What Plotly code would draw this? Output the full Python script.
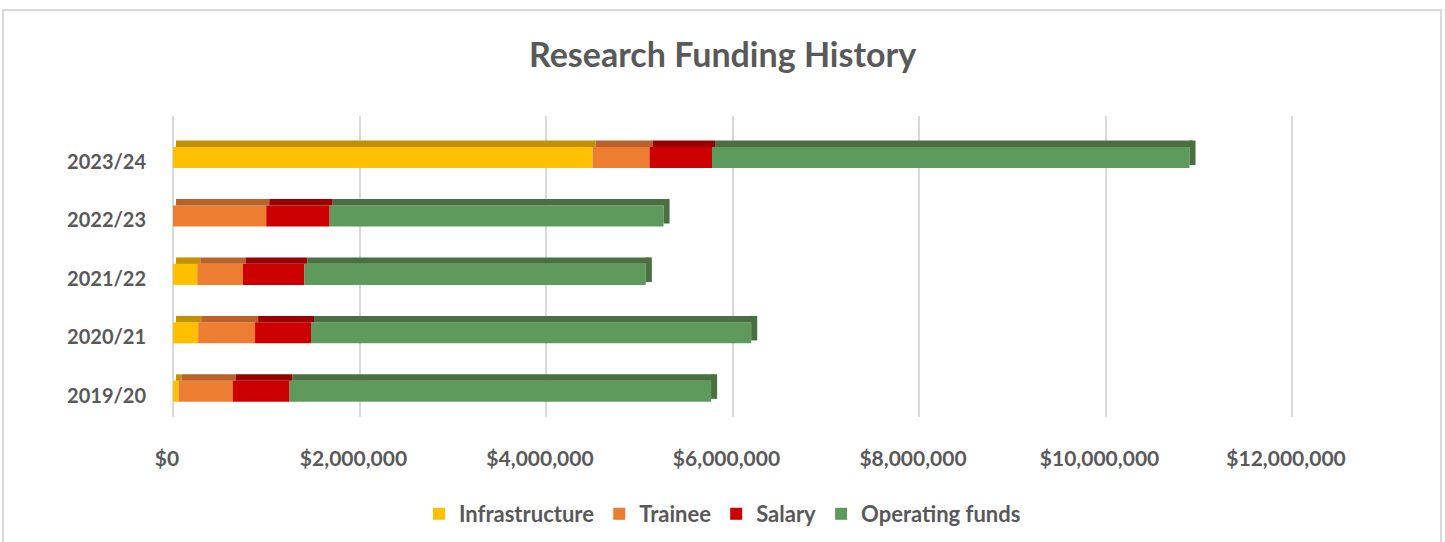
import plotly.graph_objects as go
import numpy as np

# ---- data ----
years = ["2019/20", "2020/21", "2021/22", "2022/23", "2023/24"]
infrastructure = [60000, 270000, 260000, 0, 4500000]
trainee = [580000, 610000, 490000, 1000000, 610000]
salary = [610000, 600000, 660000, 680000, 670000]
operating = [4520000, 4720000, 3660000, 3580000, 5120000]

series_names = ["Infrastructure", "Trainee", "Salary", "Operating funds"]
tick_vals = [0, 2000000, 4000000, 6000000, 8000000, 10000000, 12000000]
tick_text = ["$0", "$2,000,000", "$4,000,000", "$6,000,000", "$8,000,000", "$10,000,000", "$12,000,000"]

# ---- styles ----
face_colors = ["#FFC000", "#ED7D31", "#CC0000", "#5F9A5D"]
top_colors = ["#C39100", "#BA622A", "#990000", "#4A7042"]
FONT = "Lato"
GREY = "#595959"
DEPTH = 65000  # visual depth of the 3D side face, in axis units

data = [infrastructure, trainee, salary, operating]

fig = go.Figure()
base = np.zeros(len(years))
for name, vals, fc, tc in zip(series_names, data, face_colors, top_colors):
    v = np.array(vals, dtype=float)
    # front face
    fig.add_trace(go.Bar(
        y=years, x=v, base=base, orientation="h", name=name,
        marker=dict(color=fc, line=dict(width=0)),
        offset=-0.24, width=0.36, showlegend=True,
    ))
    # top face
    fig.add_trace(go.Bar(
        y=years, x=v, base=base + DEPTH * 0.5 * (v > 0), orientation="h", name=name,
        marker=dict(color=tc, line=dict(width=0)),
        offset=0.12, width=0.11, showlegend=False, hoverinfo="skip",
    ))
    base = base + v

# right side face of the stack
fig.add_trace(go.Bar(
    y=years, x=[DEPTH] * len(years), base=base, orientation="h",
    marker=dict(color=top_colors[-1], line=dict(width=0)),
    offset=-0.19, width=0.42, showlegend=False, hoverinfo="skip",
))

L, R, T, B = 173, 125, 116, 125
W, H = 1445, 542
pw, ph = W - L - R, H - T - B

fig.update_layout(
    width=W, height=H,
    barmode="overlay",
    margin=dict(l=L, r=R, t=T, b=B),
    paper_bgcolor="white", plot_bgcolor="white",
    font=dict(family=FONT, color=GREY),
    title=dict(text="<b>Research Funding History</b>", x=0.5, xanchor="center",
               xref="container", yref="container", y=1 - 55 / H, yanchor="middle",
               font=dict(family=FONT, size=34, color=GREY)),
    xaxis=dict(range=[0, 12300000], tickvals=tick_vals, ticktext=tick_text,
               showgrid=True, gridcolor="#D9D9D9", gridwidth=2,
               zeroline=True, zerolinecolor="#D9D9D9", zerolinewidth=2,
               showline=False, ticks="",
               tickfont=dict(family=FONT, size=21, color=GREY, weight="bold"),
               ticklabelstandoff=27, ticklabelshift=-6, fixedrange=True),
    yaxis=dict(type="category", categoryorder="array", categoryarray=years,
               range=[-0.5, 4.65], showgrid=False, zeroline=False, showline=False,
               ticks="", tickfont=dict(family=FONT, size=20, color=GREY, weight="bold"),
               ticklabelstandoff=26, ticklabelshift=8, fixedrange=True),
    legend=dict(orientation="h", xref="container", yref="container",
                x=0.5, xanchor="center", y=1 - 514 / H, yanchor="middle",
                font=dict(family=FONT, size=22, color=GREY, weight="bold"),
                itemwidth=30, traceorder="normal", bgcolor="rgba(0,0,0,0)"),
    shapes=[dict(type="rect", xref="paper", yref="paper",
                 x0=(3 - L) / pw, x1=(1441 - L) / pw,
                 y0=(T + ph - 560) / ph, y1=(T + ph - 10) / ph,
                 line=dict(color="#D9D9D9", width=2), fillcolor="rgba(0,0,0,0)",
                 layer="below")],
)

fig.write_html("out.html")
